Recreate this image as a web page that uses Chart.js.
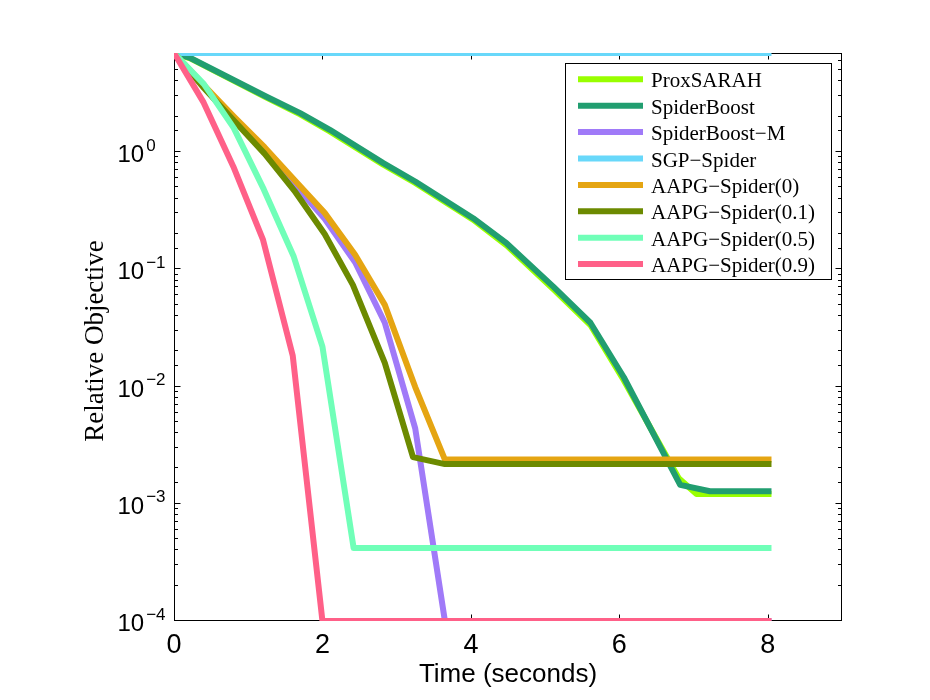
<!DOCTYPE html>
<html>
<head>
<meta charset="utf-8">
<script src="https://cdn.jsdelivr.net/npm/chart.js@4/dist/chart.umd.min.js"></script>
<style>
  html, body { margin: 0; padding: 0; background: #fff; }
  canvas { display: block; }
</style>
</head>
<body>
<canvas id="grafico" width="930" height="700"></canvas>
<script>
// Valores (tempo em segundos / objetivo relativo)
const nomes = ['ProxSARAH', 'SpiderBoost', 'SpiderBoost\u2212M', 'SGP\u2212Spider',
  'AAPG\u2212Spider(0)', 'AAPG\u2212Spider(0.1)', 'AAPG\u2212Spider(0.5)', 'AAPG\u2212Spider(0.9)'];

const tempoProx = [0, 0.22, 1.24, 1.70, 2.10, 2.82, 3.25, 4.03, 4.48, 5.11, 5.61, 6.06, 6.80, 7.04, 8.05];
const objProx = [7, 6.3, 2.93, 2.1, 1.5, 0.78, 0.545, 0.265, 0.16, 0.068, 0.0335, 0.0113, 0.00165, 0.00121, 0.00121];

const tempoBoost = [0, 0.22, 1.24, 1.70, 2.10, 2.82, 3.25, 4.03, 4.48, 5.11, 5.61, 6.06, 6.82, 7.22, 8.05];
const objBoost = [7, 6.35, 2.98, 2.15, 1.55, 0.805, 0.561, 0.273, 0.167, 0.0711, 0.035, 0.012, 0.00145, 0.00128, 0.00128];

const tempoBoostM = [0, 0.406, 0.81, 1.22, 1.62, 2.03, 2.44, 2.84, 3.25, 3.65, 8.05];
const objBoostM = [7, 3.6, 1.95, 1.05, 0.53, 0.27, 0.115, 0.035, 0.0044, 0.0001, 0.0001];

const tempoSGP = [0, 8.05];
const objSGP = [7, 7];

const tempoA0 = [0, 0.406, 0.81, 1.22, 1.62, 2.03, 2.44, 2.84, 3.25, 3.65, 8.05];
const objA0 = [7, 3.7, 2.0, 1.1, 0.58, 0.303, 0.133, 0.0497, 0.0099, 0.00238, 0.00238];

const tempoA01 = [0, 0.406, 0.81, 1.22, 1.62, 2.03, 2.41, 2.84, 3.22, 3.65, 8.05];
const objA01 = [7, 3.5, 1.85, 0.97, 0.47, 0.2, 0.0736, 0.0159, 0.0025, 0.00218, 0.00218];

const tempoA05 = [0, 0.403, 0.806, 1.21, 1.61, 2.0, 2.42, 8.05];
const objA05 = [7, 3.8, 1.6, 0.48, 0.13, 0.0219, 0.00042, 0.00042];

const tempoA09 = [0, 0.4, 0.8, 1.2, 1.6, 2.0, 8.05];
const objA09 = [7, 2.64, 0.75, 0.178, 0.0183, 0.0001, 0.0001];

const xTicks = [0, 2, 4, 6, 8];
const yExpoentes = [-4, -3, -2, -1, 0];

const cores = ['#99FF00', '#219E70', '#A07AF8', '#68D8FA', '#E5A512', '#6C8A00', '#70FFB8', '#FF6088'];
const tempos = [tempoProx, tempoBoost, tempoBoostM, tempoSGP, tempoA0, tempoA01, tempoA05, tempoA09];
const objetivos = [objProx, objBoost, objBoostM, objSGP, objA0, objA01, objA05, objA09];

const sans = '"Liberation Sans", Arial, Helvetica, sans-serif';
const serif = '"Liberation Serif", "Times New Roman", serif';

// eixos no estilo MATLAB: caixa, ticks para dentro, rótulos 10^n
const eixosMatlab = {
  id: 'eixosMatlab',
  beforeDatasetsDraw(chart) {
    const { ctx, chartArea: a, scales: { x, y } } = chart;
    ctx.save();
    ctx.strokeStyle = '#000';
    ctx.lineWidth = 1;
    ctx.strokeRect(Math.round(a.left) + 0.5, Math.round(a.top) + 0.5,
      Math.round(a.right - a.left) - 1, Math.round(a.bottom - a.top) - 1);

    ctx.beginPath();
    xTicks.forEach(v => {
      const px = Math.round(x.getPixelForValue(v)) + 0.5;
      ctx.moveTo(px, a.bottom); ctx.lineTo(px, a.bottom - 6.5);
      ctx.moveTo(px, a.top); ctx.lineTo(px, a.top + 6.5);
    });
    y.ticks.forEach(t => {
      if (t.value >= y.max) return;
      const lg = Math.log10(t.value);
      const len = Math.abs(lg - Math.round(lg)) < 1e-6 ? 6.5 : 4;
      const py = Math.round(y.getPixelForValue(t.value)) - 0.5;
      ctx.moveTo(a.left, py); ctx.lineTo(a.left + len, py);
      ctx.moveTo(a.right, py); ctx.lineTo(a.right - len, py);
    });
    ctx.stroke();

    ctx.fillStyle = '#000';
    ctx.font = '27px ' + sans;
    ctx.textAlign = 'center';
    ctx.textBaseline = 'alphabetic';
    xTicks.forEach(v => ctx.fillText(String(v), x.getPixelForValue(v), a.bottom + 32));

    ctx.textAlign = 'left';
    yExpoentes.forEach(p => {
      const py = y.getPixelForValue(Math.pow(10, p));
      ctx.font = '24px ' + sans;
      ctx.fillText('10', 117.5, py + 10);
      const w = ctx.measureText('10').width;
      ctx.font = '17px ' + sans;
      ctx.fillText(p === 0 ? '0' : '\u2212' + Math.abs(p), 117.5 + w + 2, py - 1.5);
    });

    ctx.font = '26px ' + sans;
    ctx.textAlign = 'center';
    ctx.fillText('Time (seconds)', (a.left + a.right) / 2, 682);

    ctx.translate(103, (a.top + a.bottom) / 2 + 4);
    ctx.rotate(-Math.PI / 2);
    ctx.font = '27px ' + serif;
    ctx.fillText('Relative Objective', 0, 0);
    ctx.restore();
  },
  afterDraw(chart) {
    // legenda dentro da área do gráfico
    const { ctx } = chart;
    ctx.save();
    ctx.fillStyle = '#fff';
    ctx.fillRect(565, 63, 266, 216);
    ctx.strokeStyle = '#000';
    ctx.lineWidth = 1;
    ctx.strokeRect(565.5, 63.5, 266, 216);
    ctx.font = '21px ' + serif;
    ctx.textAlign = 'left';
    ctx.textBaseline = 'alphabetic';
    chart.data.datasets.forEach((ds, i) => {
      const cy = 79.3 + i * 26.4;
      ctx.strokeStyle = ds.borderColor;
      ctx.lineWidth = 6;
      ctx.beginPath();
      ctx.moveTo(578, cy); ctx.lineTo(643, cy);
      ctx.stroke();
      ctx.fillStyle = '#000';
      ctx.fillText(ds.label, 651, cy + 8);
    });
    ctx.restore();
  }
};

const datasets = nomes.map((nome, i) => ({
  label: nome,
  data: tempos[i].map((t, k) => ({ x: t, y: objetivos[i][k] })),
  borderColor: cores[i],
  backgroundColor: cores[i],
  borderWidth: 6,
  borderJoinStyle: 'round',
  borderCapStyle: 'butt',
  pointRadius: 0,
  tension: 0,
  fill: false,
  clip: 0,
  order: nomes.length - i
}));

const ctxGrafico = document.getElementById('grafico').getContext('2d');
const grafico = new Chart(ctxGrafico, {
  type: 'line',
  data: { datasets: datasets },
  options: {
    responsive: false,
    animation: false,
    devicePixelRatio: 1,
    layout: { padding: { left: 0, top: 53, right: 88, bottom: 0 } },
    plugins: {
      legend: { display: false },
      tooltip: { enabled: false }
    },
    scales: {
      x: {
        type: 'linear',
        min: 0,
        max: 9,
        ticks: { display: false, stepSize: 2 },
        grid: { display: false },
        border: { display: false },
        afterFit: s => { s.height = 79; }
      },
      y: {
        type: 'logarithmic',
        min: 1e-4,
        max: 7,
        ticks: { display: false },
        grid: { display: false },
        border: { display: false },
        afterFit: s => { s.width = 174; }
      }
    }
  },
  plugins: [eixosMatlab]
});
</script>
</body>
</html>
